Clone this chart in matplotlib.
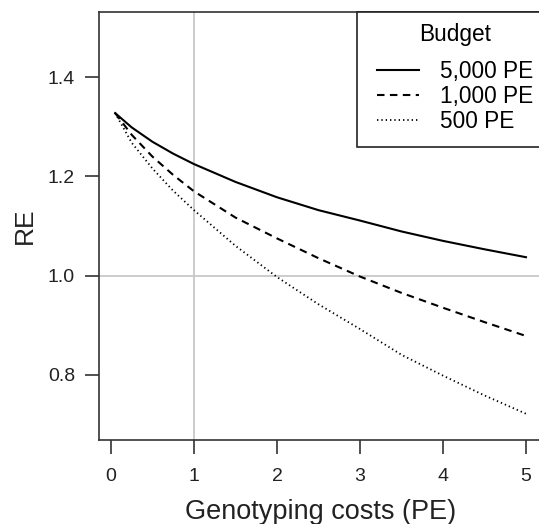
import numpy as np
import matplotlib
matplotlib.use("Agg")
from matplotlib import pyplot as plt
from matplotlib.patches import Rectangle

plt.rcParams["font.family"] = ["Liberation Sans", "DejaVu Sans"]

# genotyping costs (PE) and relative efficiency
cost = [0.05, 0.25, 0.5, 0.75, 1.0, 1.5, 2.0, 2.5, 3.0, 3.5, 4.0, 4.5, 5.0]
re_5000 = [1.328, 1.299, 1.270, 1.246, 1.225, 1.189, 1.158, 1.132, 1.111, 1.089, 1.070, 1.053, 1.037]
re_1000 = [1.328, 1.284, 1.240, 1.203, 1.170, 1.117, 1.075, 1.035, 0.998, 0.965, 0.935, 0.906, 0.878]
re_500 = [1.328, 1.268, 1.216, 1.171, 1.132, 1.060, 0.997, 0.942, 0.892, 0.840, 0.798, 0.758, 0.721]
budget_labels = ["5,000 PE", "1,000 PE", "500 PE"]

W, H = 539, 524
fig = plt.figure(figsize=(W / 100, H / 100), dpi=100)
# axes box; right edge falls just outside the picture like in the original
x0, x1, ytop, ybot = 98.7, 542.4, 12, 440
ax = fig.add_axes([x0 / W, 1 - ybot / H, (x1 - x0) / W, (ybot - ytop) / H])

ax.axvline(1, color="#c8c8c8", lw=1.3, zorder=0)
ax.axhline(1.0, color="#c8c8c8", lw=1.3, zorder=0)

ax.plot(cost, re_5000, color="black", lw=1.5, label=budget_labels[0])
ax.plot(cost, re_1000, color="black", lw=1.5, dashes=(3.6, 2.6), label=budget_labels[1])
ax.plot(cost, re_500, color="black", lw=1.3, dashes=(0.75, 1.65), label=budget_labels[2])

ax.set_xlim(-0.148, 5.198)
ax.set_ylim(0.668, 1.532)
ax.set_xticks([0, 1, 2, 3, 4, 5])
ax.set_xticklabels(["0", "1", "2", "3", "4", "5"])
ax.set_yticks([0.8, 1.0, 1.2, 1.4])
ax.set_yticklabels(["0.8", "1.0", "1.2", "1.4"])

for s in ax.spines.values():
    s.set_color("#333333")
    s.set_linewidth(1.2)
ax.tick_params(axis="both", length=10, width=1.2, color="#333333",
               labelsize=14, labelcolor="#222222")
ax.tick_params(axis="x", pad=10)
ax.tick_params(axis="y", pad=7)

ax.set_xlabel("Genotyping costs (PE)", fontsize=19.5, color="#222222", labelpad=10)
ax.set_ylabel("RE", fontsize=19, color="#222222", labelpad=8)

# legend box drawn by hand so it sits flush with the top of the axes
box = Rectangle((357 / W, 1 - 147 / H), 200 / W, 135 / H, transform=fig.transFigure,
                facecolor="white", edgecolor="#222222", lw=1.2, clip_on=False, zorder=4)
ax.add_patch(box)

leg = ax.legend(title="Budget", loc="upper left",
                bbox_to_anchor=(377 / W, 1 - 22.7 / H), bbox_transform=fig.transFigure,
                fontsize=16.3, title_fontsize=16.3, frameon=False,
                borderpad=0, handlelength=1.85, handletextpad=0.95,
                labelspacing=0.1, borderaxespad=0)
leg.set_zorder(5)
leg._legend_box.sep = 10  # extra gap under the title

fig.savefig("out.png", dpi=100)
